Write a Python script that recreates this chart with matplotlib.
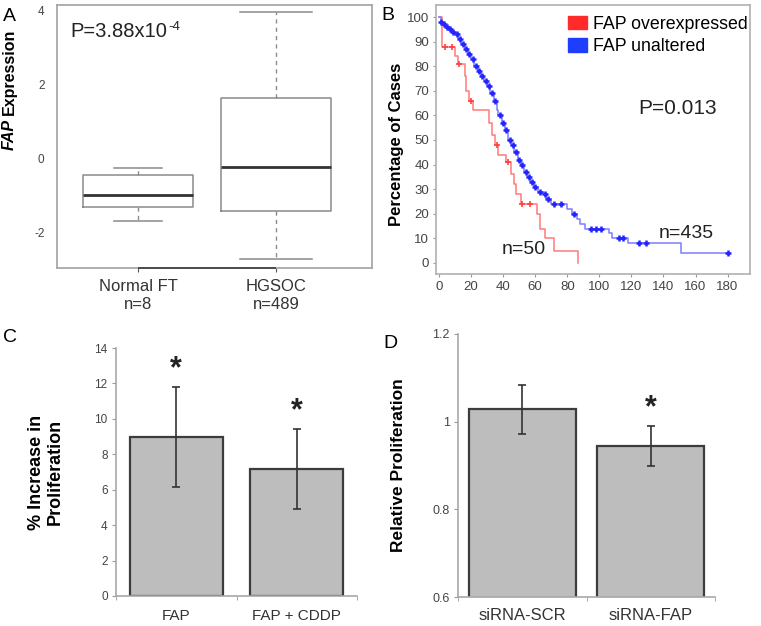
import numpy as np
import matplotlib
matplotlib.use("Agg")
import matplotlib.pyplot as plt
from matplotlib.patches import Patch

plt.rcParams['font.family'] = ['Liberation Sans', 'DejaVu Sans']

# ---------------- data ----------------
# Panel A: box plot stats
box_labels = ["Normal FT\nn=8", "HGSOC\nn=489"]
box_whislo = [-1.68, -2.70]
box_q1 = [-1.30, -1.40]
box_med = [-0.97, -0.22]
box_q3 = [-0.43, 1.65]
box_whishi = [-0.24, 3.97]
a_yticks = [-2, 0, 2, 4]

# Panel B: Kaplan-Meier step curves (months, % of cases)
red_t = [0, 2, 10, 12, 16, 17, 19, 21, 31, 33, 35, 37, 42, 45, 47, 48, 51, 61, 63, 66, 72, 87]
red_s = [100, 88, 84, 81, 76, 70, 66, 62, 57, 52, 48, 44, 41, 36, 32, 28, 24, 20, 14, 10, 5, 0]
red_cens_t = [4, 8, 12.5, 20, 36, 43, 52, 57]
blue_t = [0, 1, 2, 4, 6, 8, 10, 12, 14, 16, 18, 20, 22, 24, 26, 28, 30, 32, 34, 36, 37, 39,
          41, 43, 45, 47, 49, 51, 53, 55, 57, 59, 62, 65, 67, 70, 80, 83, 86, 88, 91, 106,
          108, 118, 151, 180]
blue_s = [100, 98, 97, 96, 95, 94, 93, 91, 89, 87, 85, 83, 80, 78, 76, 74, 72, 69, 66, 62, 60, 57,
          54, 50, 48, 45, 42, 40, 37, 35, 33, 31, 29, 28, 26, 24, 22, 20, 18, 16, 14, 12,
          10, 8, 4, 4]
blue_cens_t = [1, 3, 5, 7, 9, 11, 13, 15, 17, 19, 21, 23, 25, 27, 29, 31, 33, 35, 38, 40, 42,
               44, 46, 48, 50, 52, 54, 56, 58, 60, 63, 66, 68, 72, 76, 84, 95, 98, 101, 112,
               115, 125, 129, 180]
km_xticks = list(range(0, 181, 20))
km_yticks = list(range(0, 101, 10))

# Panel C
c_cats = ["FAP", "FAP + CDDP"]
c_vals = [8.98, 7.16]
c_err_lo = [2.80, 2.27]
c_err_hi = [2.80, 2.29]
c_yticks = [0, 2, 4, 6, 8, 10, 12, 14]

# Panel D
d_cats = ["siRNA-SCR", "siRNA-FAP"]
d_vals = [1.028, 0.945]
d_err = [0.056, 0.046]
d_yticks = [0.6, 0.8, 1.0, 1.2]
d_yticklabels = ["0.6", "0.8", "1", "1.2"]

# ---------------- layout ----------------
W, H = 761, 626
fig = plt.figure(figsize=(W / 100, H / 100), dpi=100)


def rect(l, t, r, b):
    return [l / W, 1 - b / H, (r - l) / W, (b - t) / H]


def ftext(x, y, s, **kw):
    return fig.text(x / W, 1 - y / H, s, **kw)


tick_col = '#444444'

# ---------------- Panel A ----------------
axA = fig.add_axes(rect(57, 5, 372, 268))
stats = []
for i in range(2):
    stats.append(dict(med=box_med[i], q1=box_q1[i], q3=box_q3[i],
                      whislo=box_whislo[i], whishi=box_whishi[i], fliers=[]))
axA.bxp(stats, positions=[1, 2], widths=0.8, capwidths=[0.35, 0.52], showfliers=False,
        boxprops=dict(color='#8a8a8a', lw=1.1),
        medianprops=dict(color='#333333', lw=2.0),
        whiskerprops=dict(color='#8a8a8a', lw=1.0, linestyle=(0, (3, 3))),
        capprops=dict(color='#8a8a8a', lw=1.1))
axA.set_xlim(0.413, 2.696)
axA.set_ylim(-2.95, 4.16)
axA.set_yticks(a_yticks)
axA.set_yticklabels([str(v) for v in a_yticks])
axA.set_xticks([1, 2])
axA.set_xticklabels(box_labels, fontsize=12, color='#333333', linespacing=1.25)
axA.tick_params(axis='y', length=0, pad=9, labelsize=8.5, labelcolor=tick_col)
axA.tick_params(axis='x', length=3, color='#555555', pad=5)
for s in axA.spines.values():
    s.set_color('#a8a8a8')
    s.set_linewidth(1.3)
axA.hlines(axA.get_ylim()[0], 1, 2, color='#444444', lw=1.3, clip_on=False, zorder=5)
pA = ftext(70, 37, "P=3.88x10", fontsize=14.5, va='baseline', ha='left', color='#222222')
axA.annotate("-4", xy=(1.0, 1.0), xycoords=pA, xytext=(1, 1), textcoords='offset points',
             fontsize=9.5, va='top', ha='left', color='#222222')
yl1 = ftext(9, 150, "FAP", rotation=90, ha='center', va='bottom', fontsize=11.5,
            fontweight='bold', fontstyle='italic')
axA.annotate("Expression", xy=(0.5, 1.0), xycoords=yl1, xytext=(0, 3),
             textcoords='offset points', rotation=90, ha='center', va='bottom',
             fontsize=11.5, fontweight='bold')

# ---------------- Panel B ----------------
axB = fig.add_axes(rect(436, 5, 750, 274))


def step_val(ts, ss, t):
    idx = np.searchsorted(np.asarray(ts), t, side='right') - 1
    return np.asarray(ss)[idx]


axB.step(red_t, red_s, where='post', color='#ff7a7a', lw=1.1)
axB.plot(red_cens_t, step_val(red_t, red_s, red_cens_t), '+', color='#ff4040', ms=4, mew=1.2)
axB.step(blue_t, blue_s, where='post', color='#7d7dff', lw=1.1)
axB.plot(blue_cens_t, step_val(blue_t, blue_s, blue_cens_t), '+', color='#2424ff', ms=5,
         mew=1.8)
axB.set_xlim(-1.9, 194)
axB.set_ylim(-4.5, 104.9)
axB.set_xticks(km_xticks)
axB.set_yticks(km_yticks)
axB.tick_params(axis='both', length=2, color='#999999', labelsize=9.5, labelcolor=tick_col)
axB.tick_params(axis='y', pad=3)
axB.tick_params(axis='x', pad=3)
for s in axB.spines.values():
    s.set_color('#b0b0b0')
    s.set_linewidth(1.2)
axB.text(124, 63, "P=0.013", fontsize=15, color='#222222', va='center', ha='left')
axB.text(53, 5.5, "n=50", fontsize=14, color='#222222', va='center', ha='center')
axB.text(154, 12, "n=435", fontsize=14, color='#222222', va='center', ha='center')
axB.legend(handles=[Patch(color='#ff2a2a', label='FAP overexpressed'),
                    Patch(color='#1f3dff', label='FAP unaltered')],
           loc='upper left', bbox_to_anchor=((568 - 436) / 314 - 0.035, 1.0),
           frameon=False, fontsize=12.8, handlelength=1.1, handleheight=0.8,
           handletextpad=0.3, labelspacing=0.3, borderaxespad=0.2)
ftext(396, 144, "Percentage of Cases", rotation=90, ha='center', va='center',
      fontsize=12, fontweight='bold')

# ---------------- Panel C ----------------
bar_face = '#bdbdbd'
bar_edge = '#3c3c3c'
axC = fig.add_axes(rect(116, 348, 357, 596))
xc = np.arange(len(c_cats))
axC.bar(xc, c_vals, width=0.77, color=bar_face, edgecolor=bar_edge, lw=1.6, zorder=2)
axC.errorbar(xc, c_vals, yerr=[c_err_lo, c_err_hi], fmt='none', ecolor='#333333',
             elinewidth=1.2, capsize=3, capthick=1.2, zorder=3)
axC.set_xlim(-0.5, 1.5)
axC.set_ylim(0, 14)
axC.set_yticks(c_yticks)
axC.set_xticks(xc)
axC.set_xticklabels(c_cats, fontsize=11, color='#333333')
axC.set_xticks([-0.5, 0.5, 1.5], minor=True)
axC.tick_params(axis='x', which='major', length=0, pad=9)
axC.tick_params(axis='x', which='minor', length=3, color='#999999')
axC.tick_params(axis='y', length=3, color='#999999', labelsize=8.5, labelcolor=tick_col, pad=3)
for k in ['top', 'right']:
    axC.spines[k].set_visible(False)
for k in ['left', 'bottom']:
    axC.spines[k].set_color('#a8a8a8')
    axC.spines[k].set_linewidth(1.2)
for i in range(2):
    axC.annotate("*", (xc[i], c_vals[i] + c_err_hi[i]), xytext=(0, 2),
                 textcoords='offset points', ha='center', va='bottom', fontsize=22,
                 fontweight='bold', color='#222222')
axC.set_ylabel("% Increase in\nProliferation", fontsize=13, fontweight='bold',
               linespacing=1.15, labelpad=22)

# ---------------- Panel D ----------------
axD = fig.add_axes(rect(458, 334, 715, 597))
xd = np.arange(len(d_cats))
axD.bar(xd, d_vals, width=0.83, color=bar_face, edgecolor=bar_edge, lw=1.6, zorder=2)
axD.errorbar(xd, d_vals, yerr=d_err, fmt='none', ecolor='#333333',
             elinewidth=1.2, capsize=3, capthick=1.2, zorder=3)
axD.set_xlim(-0.5, 1.5)
axD.set_ylim(0.6, 1.2)
axD.set_yticks(d_yticks)
axD.set_yticklabels(d_yticklabels)
axD.set_xticks(xd)
axD.set_xticklabels(d_cats, fontsize=12, color='#333333')
axD.set_xticks([-0.5, 0.5, 1.5], minor=True)
axD.tick_params(axis='x', which='major', length=0, pad=8)
axD.tick_params(axis='x', which='minor', length=3, color='#999999')
axD.tick_params(axis='y', length=3, color='#999999', labelsize=9, labelcolor=tick_col, pad=3)
for k in ['top', 'right']:
    axD.spines[k].set_visible(False)
for k in ['left', 'bottom']:
    axD.spines[k].set_color('#a8a8a8')
    axD.spines[k].set_linewidth(1.2)
axD.annotate("*", (xd[1], d_vals[1] + d_err[1]), xytext=(0, 2),
             textcoords='offset points', ha='center', va='bottom', fontsize=22,
             fontweight='bold', color='#222222')
axD.set_ylabel("Relative Proliferation", fontsize=12.5, fontweight='bold', labelpad=19)

# panel letters
ftext(3, 21, "A", fontsize=14, va='baseline', ha='left')
ftext(381, 20, "B", fontsize=14, va='baseline', ha='left')
ftext(3, 342, "C", fontsize=14, va='baseline', ha='left')
ftext(383, 348, "D", fontsize=14, va='baseline', ha='left')

fig.savefig("out.png", dpi=100)
